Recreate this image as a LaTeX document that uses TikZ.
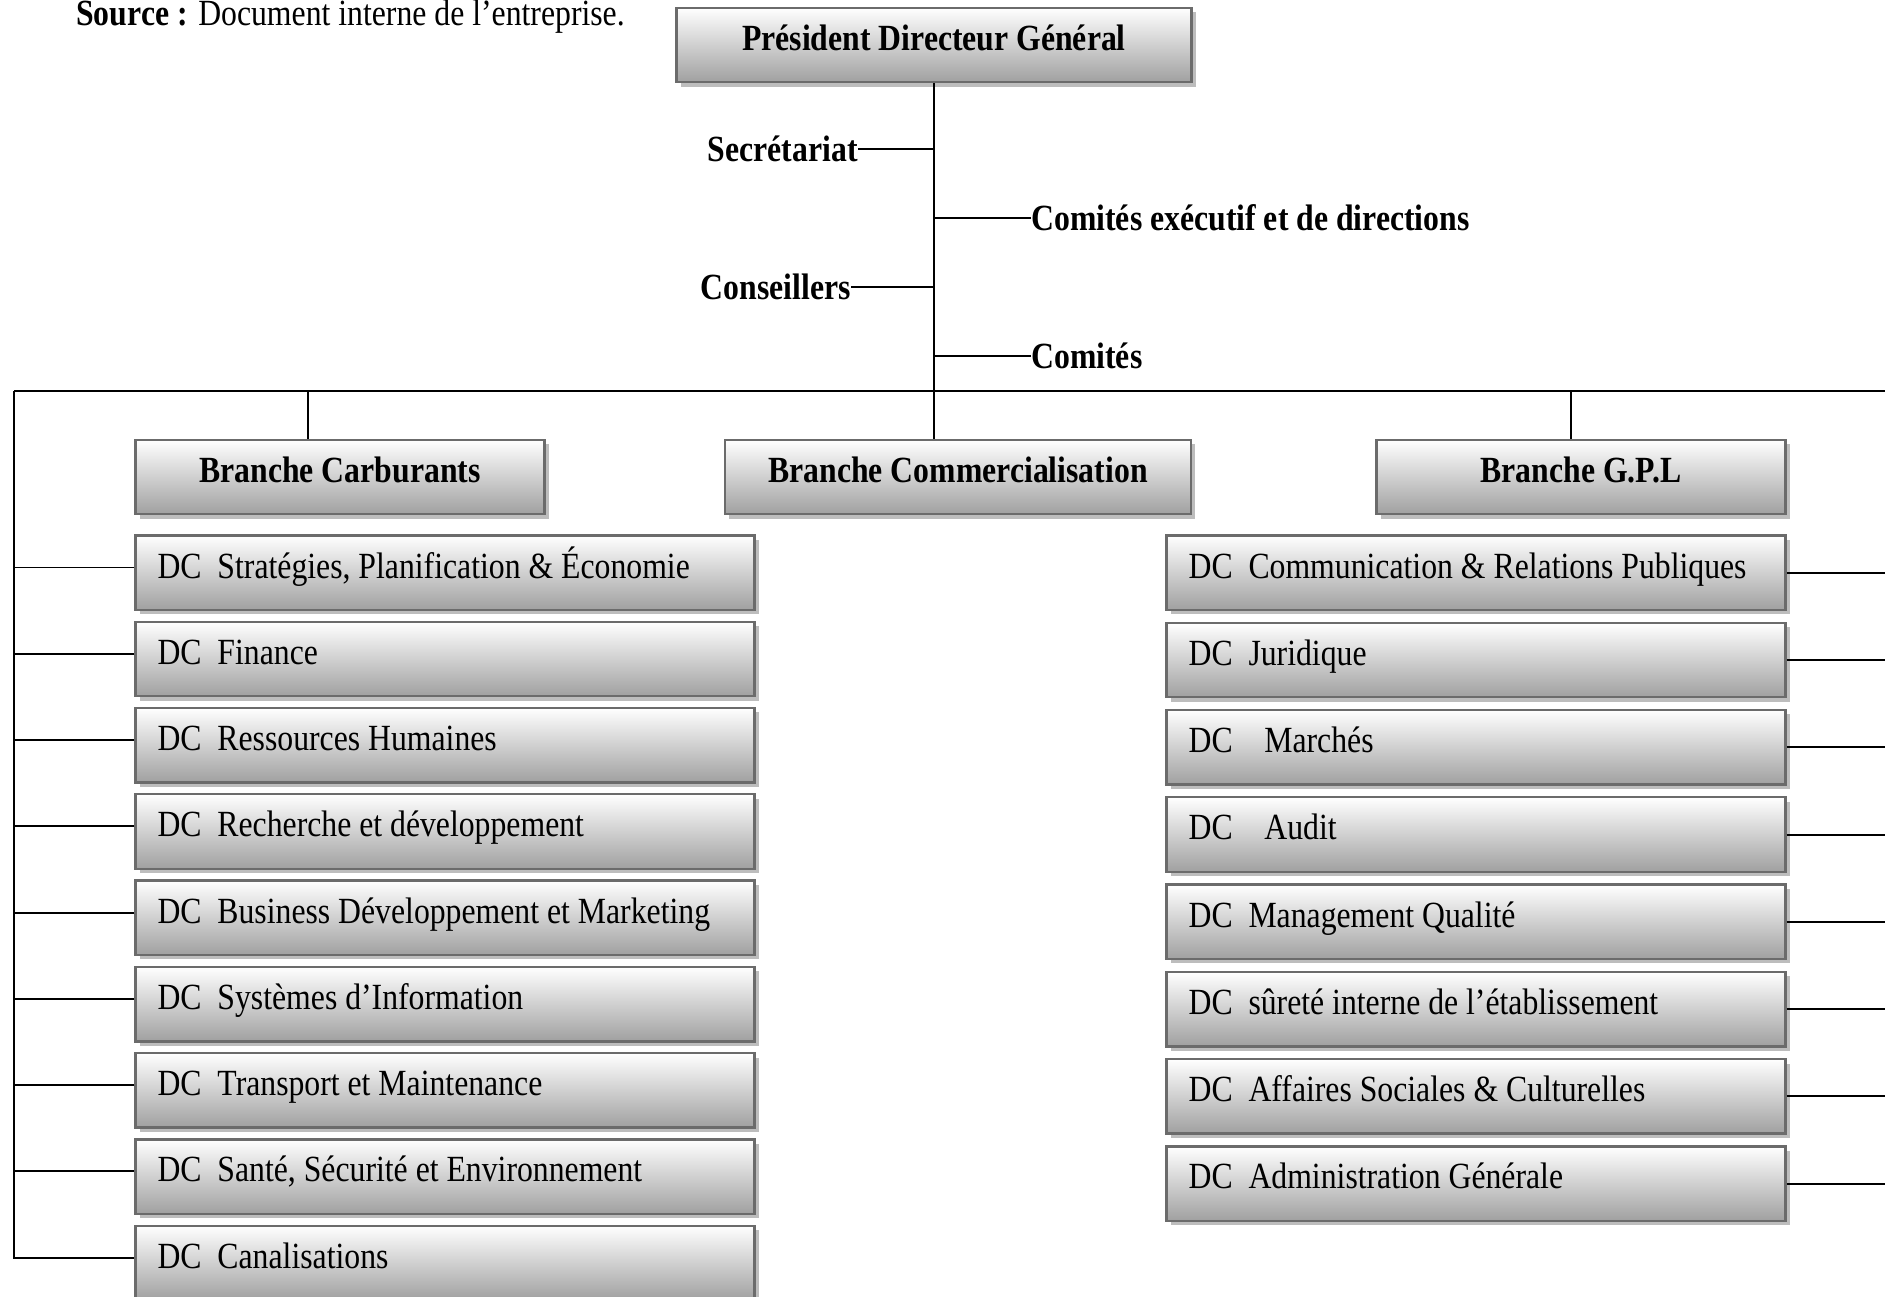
\documentclass[tikz,border=0pt]{standalone}
\usepackage{fontspec}
\setmainfont[FakeStretch=0.86]{Liberation Serif}
\usetikzlibrary{positioning, shadows}
\definecolor{boxline}{HTML}{6B6B6B}
\definecolor{boxdark}{HTML}{A0A0A0}
\definecolor{boxshadow}{HTML}{BDBDBD}

\begin{document}
\begin{tikzpicture}[
    x=0.02cm, y=-0.02cm,
    node distance=0.19cm,
    box/.style={rectangle, draw=boxline, line width=1.3pt, top color=white, bottom color=boxdark,
                minimum width=#1, minimum height=1.49cm, inner ysep=0pt,
                text height=24pt, text depth=18pt,
                drop shadow={shadow xshift=2.5pt, shadow yshift=-2.5pt, fill=boxshadow, opacity=1}},
    head/.style={box=#1, inner xsep=0pt, font=\fontsize{21}{25}\selectfont\bfseries},
    dc/.style={box=12.38cm, inner xsep=0.44cm, text width=11.5cm, align=flush left,
               font=\fontsize{21}{25}\selectfont},
    side/.style={inner sep=0pt, font=\fontsize{21}{25}\selectfont\bfseries},
    link/.style={line width=1.1pt, black}
]
\useasboundingbox (0,0) rectangle (1885,1297);

% Source
\node[anchor=base west, inner sep=0pt, font=\fontsize{21}{25}\selectfont] (source) at (76,26)
    {\textbf{Source :} Document interne de l’entreprise.};

% Direction generale
\node[head=10.3cm] (pdg) at (934,45) {Président Directeur Général};

\node[side, anchor=east] (secr) at (858,149) {Secrétariat};
\node[side, anchor=west] (cexec) at (1031,218) {Comités exécutif et de directions};
\node[side, anchor=east] (cons) at (851,287) {Conseillers};
\node[side, anchor=west] (comites) at (1031,356) {Comités};

% Branches
\node[head=8.18cm] (carb) at (340,477) {Branche Carburants};
\node[head=9.32cm] (comm) at (958,477) {Branche Commercialisation};
\node[head=8.18cm] (gpl) at (1581,477) {Branche G.P.L};

% Directions centrales (gauche)
\node[dc, below right=0.38cm and 0cm of carb.south west] (dcstrat) {DC\ \ Stratégies, Planification \& Économie};
\node[dc, below=of dcstrat] (dcfin) {DC\ \ Finance};
\node[dc, below=of dcfin] (dcrh) {DC\ \ Ressources Humaines};
\node[dc, below=of dcrh] (dcrd) {DC\ \ Recherche et développement};
\node[dc, below=of dcrd] (dcbdm) {DC\ \ Business Développement et Marketing};
\node[dc, below=of dcbdm] (dcsi) {DC\ \ Systèmes d’Information};
\node[dc, below=of dcsi] (dctm) {DC\ \ Transport et Maintenance};
\node[dc, below=of dctm] (dchse) {DC\ \ Santé, Sécurité et Environnement};
\node[dc, below=of dchse] (dccan) {DC\ \ Canalisations};

% Directions centrales (droite)
\node[dc, below left=0.38cm and 0cm of gpl.south east] (dccom) {DC\ \ Communication \& Relations Publiques};
\node[dc, below=0.21cm of dccom] (dcjur) {DC\ \ Juridique};
\node[dc, below=0.21cm of dcjur] (dcmar) {DC\ \ \ \ Marchés};
\node[dc, below=0.21cm of dcmar] (dcaud) {DC\ \ \ \ Audit};
\node[dc, below=0.21cm of dcaud] (dcmq) {DC\ \ Management Qualité};
\node[dc, below=0.21cm of dcmq] (dcsur) {DC\ \ sûreté interne de l’établissement};
\node[dc, below=0.21cm of dcsur] (dcasc) {DC\ \ Affaires Sociales \& Culturelles};
\node[dc, below=0.21cm of dcasc] (dcag) {DC\ \ Administration Générale};

% Liaisons
\draw[link] (pdg.south) -- (pdg.south |- comm.north);
\draw[link] (secr.east) -- (secr.east -| pdg.south);
\draw[link] (cexec.west) -- (cexec.west -| pdg.south);
\draw[link] (cons.east) -- (cons.east -| pdg.south);
\draw[link] (comites.west) -- (comites.west -| pdg.south);

\coordinate (busL) at (14,391);
\coordinate (busR) at (1885,391);
\coordinate (carbtap) at (308,391);
\coordinate (gpltap) at (1571,391);
\draw[link] (busL) -- (busR);
\draw[link] (carbtap) -- (carbtap |- carb.north);
\draw[link] (gpltap) -- (gpltap |- gpl.north);

\draw[link] (busL) |- ([yshift=3pt]dccan.west);
\foreach \n in {dcstrat,dcfin,dcrh,dcrd,dcbdm,dcsi,dctm,dchse}
    \draw[link] ([yshift=3pt]\n.west) -- ([yshift=3pt]\n.west -| busL);
\foreach \n in {dccom,dcjur,dcmar,dcaud,dcmq,dcsur,dcasc,dcag}
    \draw[link] (\n.east) -- (\n.east -| busR);

\end{tikzpicture}
\end{document}
